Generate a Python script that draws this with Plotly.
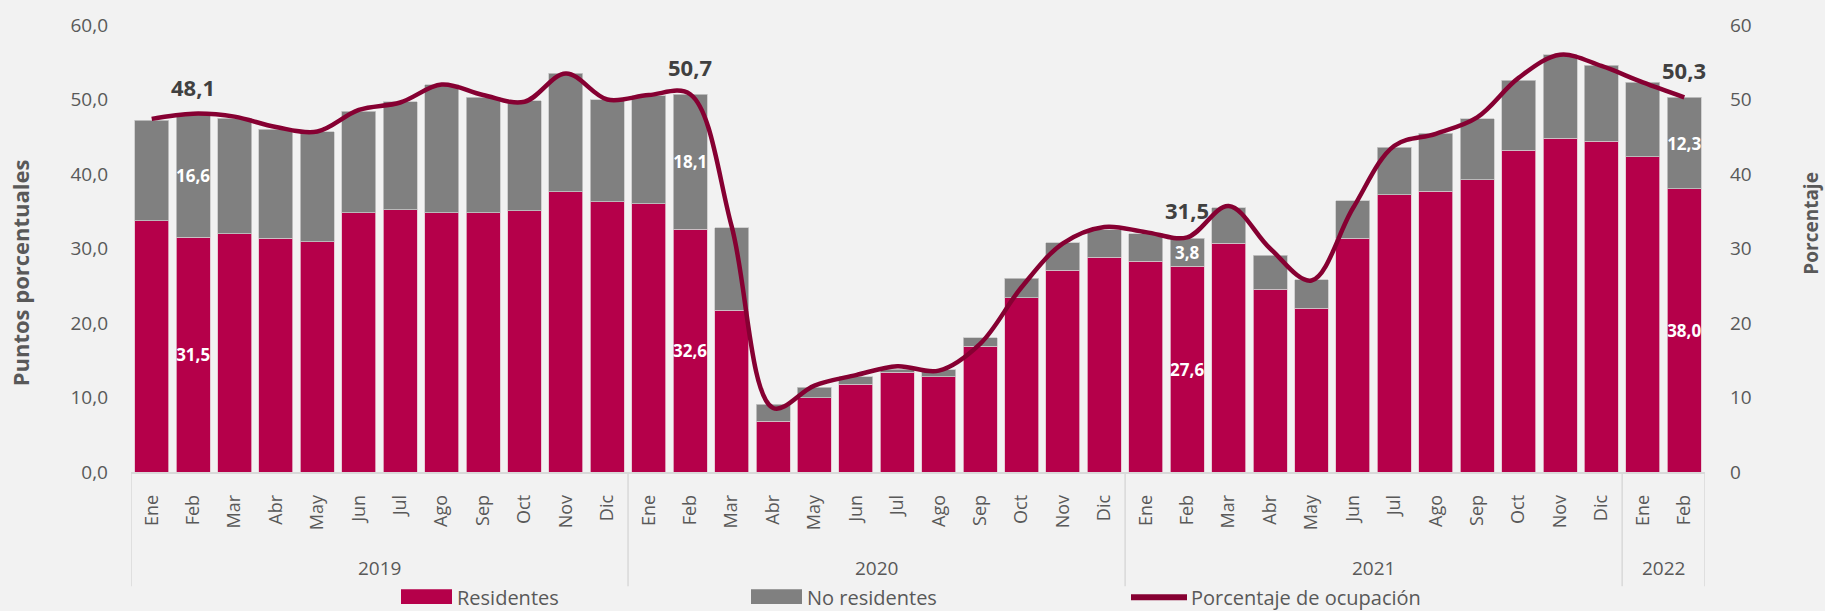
import plotly.graph_objects as go

# Meses y años
meses = ["Ene", "Feb", "Mar", "Abr", "May", "Jun", "Jul", "Ago", "Sep", "Oct", "Nov", "Dic"] * 3 + ["Ene", "Feb"]
anios = ["2019", "2020", "2021", "2022"]
anio_centro = [5.5, 17.5, 29.5, 36.5]
divisiones = [-0.5, 11.5, 23.5, 35.5, 37.5]

# Aportación a la ocupación (puntos porcentuales)
residentes = [
    33.7, 31.5, 32.0, 31.4, 30.9, 34.8, 35.2, 34.8, 34.8, 35.1, 37.6, 36.3,
    36.0, 32.6, 21.7, 6.8, 10.0, 11.8, 13.4, 12.8, 16.9, 23.4, 27.1, 28.8,
    28.3, 27.6, 30.7, 24.5, 22.0, 31.4, 37.2, 37.7, 39.2, 43.2, 44.8, 44.4,
    42.3, 38.0,
]
no_residentes = [
    13.5, 16.6, 15.5, 14.6, 14.8, 13.6, 14.5, 17.2, 15.5, 14.7, 15.9, 13.7,
    14.5, 18.1, 11.1, 2.3, 1.4, 1.0, 0.4, 0.9, 1.1, 2.6, 3.7, 3.7,
    3.7, 3.8, 4.8, 4.6, 3.8, 5.0, 6.4, 7.8, 8.2, 9.4, 11.2, 10.2,
    10.0, 12.3,
]
# Porcentaje de ocupación
ocupacion = [
    47.4, 48.1, 47.7, 46.3, 45.7, 48.6, 49.6, 52.0, 50.6, 49.7, 53.5, 50.0,
    50.6, 50.7, 33.0, 8.6, 11.6, 13.0, 14.2, 13.6, 17.2, 24.8, 30.7, 32.9,
    32.2, 31.5, 35.7, 30.0, 25.7, 35.4, 43.8, 45.4, 47.6, 52.9, 56.0, 54.5,
    52.3, 50.3,
]
# Febreros con etiqueta de valor
etiquetados = [1, 13, 25, 37]

C_RES = "#B5004A"
C_NORES = "#808080"
C_LINEA = "#860032"
C_TEXTO = "#595959"
FUENTE = "Open Sans"

x = list(range(len(meses)))


def fmt(v):
    return f"{v:.1f}".replace(".", ",")


txt_res = [fmt(v) if i in etiquetados else "" for i, v in enumerate(residentes)]
txt_nores = [fmt(v) if i in etiquetados else "" for i, v in enumerate(no_residentes)]

fig = go.Figure()
fig.add_trace(go.Bar(
    x=x, y=residentes, name="Residentes", marker=dict(color=C_RES, line=dict(color="#E6C2D0", width=0.8)),
    text=txt_res, textposition="inside", insidetextanchor="middle", constraintext="none", textangle=0,
    textfont=dict(color="white", size=17, family=FUENTE, weight="bold"), showlegend=False,
))
fig.add_trace(go.Bar(
    x=x, y=no_residentes, name="No residentes", marker=dict(color=C_NORES, line=dict(color="#C8C8C8", width=0.8)),
    text=txt_nores, textposition="inside", insidetextanchor="middle", constraintext="none", textangle=0,
    textfont=dict(color="white", size=17, family=FUENTE, weight="bold"), showlegend=False,
))
fig.add_trace(go.Scatter(
    x=x, y=ocupacion, name="Porcentaje de ocupación", yaxis="y2", mode="lines",
    line=dict(color=C_LINEA, width=4.5, shape="spline", smoothing=1.0), showlegend=False,
))

W, H = 1825, 611
ML, MR, MT, MB = 131, 120, 22, 139
PW, PH = W - ML - MR, H - MT - MB


def px_x(p):
    return (p - ML) / PW


def px_y(p):
    return (H - MB - p) / PH


shapes = []
for d in divisiones:
    shapes.append(dict(type="line", xref="x", yref="paper", x0=d, x1=d, y0=0, y1=px_y(587),
                       line=dict(color="#D9D9D9", width=1.5)))

annotations = []
for i in etiquetados:
    annotations.append(dict(x=i, y=ocupacion[i], xref="x", yref="y2", text=fmt(ocupacion[i]),
                            showarrow=False, yshift=27,
                            font=dict(size=22, color="#404040", family=FUENTE, weight="bold")))
for a, c in zip(anios, anio_centro):
    annotations.append(dict(x=c, y=px_y(569), xref="x", yref="paper", text=a, showarrow=False,
                            yanchor="middle", font=dict(size=19, color=C_TEXTO, family=FUENTE)))

# Títulos de los ejes
annotations.append(dict(x=px_x(20), y=px_y(272), xref="paper", yref="paper", text="<b>Puntos porcentuales</b>",
                        textangle=-90, showarrow=False, xanchor="center", yanchor="middle",
                        font=dict(size=22, color=C_TEXTO, family=FUENTE)))
annotations.append(dict(x=px_x(1811), y=px_y(222), xref="paper", yref="paper", text="<b>Porcentaje</b>",
                        textangle=-90, showarrow=False, xanchor="center", yanchor="middle",
                        font=dict(size=19, color=C_TEXTO, family=FUENTE)))

# Leyenda
ley_y = px_y(598)
ley = [
    ("Residentes", C_RES, "rect", 401, 452, 455),
    ("No residentes", C_NORES, "rect", 751, 802, 805),
    ("Porcentaje de ocupación", C_LINEA, "line", 1131, 1187, 1189),
]
for nombre, color, tipo, x0, x1, xt in ley:
    if tipo == "rect":
        shapes.append(dict(type="rect", xref="paper", yref="paper", x0=px_x(x0), x1=px_x(x1),
                           y0=px_y(605), y1=px_y(590), fillcolor=color, line=dict(width=0)))
    else:
        shapes.append(dict(type="line", xref="paper", yref="paper", x0=px_x(x0), x1=px_x(x1),
                           y0=ley_y, y1=ley_y, line=dict(color=color, width=6)))
    annotations.append(dict(x=px_x(xt), y=ley_y, xref="paper", yref="paper", text=nombre,
                            showarrow=False, xanchor="left", yanchor="middle",
                            font=dict(size=20, color=C_TEXTO, family=FUENTE)))

fig.update_layout(
    width=W, height=H,
    margin=dict(l=ML, r=MR, t=MT, b=MB, pad=0),
    paper_bgcolor="#F2F2F2", plot_bgcolor="#F2F2F2",
    barmode="stack", bargap=0.18,
    separators=", ",
    font=dict(family=FUENTE, color=C_TEXTO),
    showlegend=False,
    xaxis=dict(range=[-0.5, 37.5], tickmode="array", tickvals=x, ticktext=meses, tickangle=-90,
               showgrid=False, zeroline=False, showline=True, linecolor="#D9D9D9", linewidth=1.5,
               ticks="", ticklabelstandoff=14, tickfont=dict(size=18, color=C_TEXTO)),
    yaxis=dict(range=[0, 60], dtick=10, tickformat=".1f", showgrid=False, zeroline=False,
               showline=False, ticks="", ticklabelstandoff=22, tickfont=dict(size=19, color=C_TEXTO)),
    yaxis2=dict(range=[0, 60], dtick=10, overlaying="y", side="right", showgrid=False, zeroline=False,
                showline=False, ticks="", ticklabelstandoff=24, tickfont=dict(size=19, color=C_TEXTO)),
    shapes=shapes,
    annotations=annotations,
)

fig.write_html("out.html")
